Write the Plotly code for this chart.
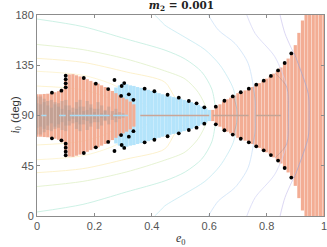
import plotly.graph_objects as go

# column positions and half-widths (deg about i=90)
e_left = [0,.0125,.025,.0375,.05,.0625,.075,.0875,.1,.1125,.125,.1375,.15,.1625,.175,.1875,.2,.2125,.225,.2375,.25,.2625,.275,.2875,.3,.3125,.325,.3375]
h_left = [19,19,19.3,19.5,20,20.8,21.8,24,33,36.8,37,36,35,33.5,32.5,31,29.5,28.5,27,25.5,23.5,22,20,18,16,14.5,12.5,10]
g_left = [17,17,15,13,14,12,11,13,14,9,7,12,14,8,13,10,6,12,9,5,8,4,6,3,2,0,0,0]
g_core = [11,10,12,9,7,10,8,6,9,5,3,6,8,4,5,7,3,6,2,4,1,0,2,0,0,0,0,0]
e_blue = [.2750,.2875,.3,.3125,.325,.3375,.35,.3625,.375,.3875,.4,.4125,.425,.4375,.45,.4625,.475,.4875,.5,.5125,.525,.5375,.55,.5625,.575,.5875,.6]
h_blue = [25,27,29,28,27,26.5,25.5,24.8,24,23,22,21,20,19,18,17.3,16.5,16,15,14,13,12,10.8,9.5,8,6.5,5]
e_right = [.6125,.625,.6375,.65,.6625,.675,.6875,.7,.7125,.725,.7375,.75,.7625,.775,.7875,.8,.8125,.825,.8375,.85,.8625,.875,.8875,.9,.9125,.925,.9375,.95,.9625,.975,.9875,1.0]
h_right = [5,8,10,12.5,14.5,16,18,20,21,22.5,24,25.5,27.5,29,31,33,35,37.5,40,43,47,51,56,63,74,85,90,90,90,90,90,90]

# boundary points
star_e = [.052,.085,.1,.1,.1,.1,.163,.205,.248,.293,.336,.27,.295,.304,.32,.375,.409,.455,.494,.529,.556,.583,.623,.653,.682,.71,.738,.764,.79,.815,.84,.863,.886]
star_i = [110.4,112.2,115.2,118.8,122.4,125.6,123.6,118.5,113.7,107.5,104,121.8,116.4,119,109,114,111.7,108.6,106,103,100.9,97.3,97.9,103.2,107.1,110.8,114,117.6,121.2,125.4,130.4,137,145.6]

# centre-line dashes at i=90
mid_blue_e = [.015,.033,None,.077,.1,None,.114,.253,None,.265,.317]
mid_brown_e = [.36,.6,None]
mid_gray_e = [.6125,.7375,None,.7625,.85]

# level curves: upper half, from outside to i=90
curves_low = [
    ([0,.16,.253,.317], [116.4,113,105,90], "#fdf0c4"),
    ([0,.16,.27,.369,.416], [129.6,126,117,100.5,90], "#fdf2cc"),
    ([0,.16,.311,.445,.481,.516,.52], [141.2,137.6,129,120,106,96,90], "#fbeec0"),
    ([0,.16,.311,.445,.516,.562,.591,.595], [153.6,149,140.6,130,122.7,110.7,96,90], "#e0f0c8"),
    ([0,.16,.311,.446,.516,.574,.609,.622,.623], [176.4,169.6,158.5,148.5,140.6,129,113.7,96,90], "#c0eede"),
]
curves_high = [
    ([.41,.43,.445,.516,.585,.638,.684,.696,.697], [180,175,171,160,149,135,114,96,90], "#b8e6f0"),
    ([.597,.632,.69,.736,.76,.76], [180,166.5,154.5,136.5,103.5,90], "#c3dcf8"),
    ([.731,.76,.829,.87,.876], [180,163.5,142.5,115.5,90], "#cfd0f5"),
    ([.847,.864,.91,.945,.948], [180,163.5,136.5,109.5,90], "#c9c2ee"),
]
# the same curves where they run through the orange region
curves_tint = [
    ([.684,.696,.697], [108,96,90]),
    ([.753,.76,.76], [116,103.5,90]),
    ([.829,.87,.876], [128,115.5,90]),
    ([.896,.91,.945,.948], [146,136.5,109.5,90]),
]

title_text = "<b><i>m</i><sub>2</sub> = 0.001</b>"
x_title = "<i>e</i><sub>0</sub>"
y_title = "<i>i</i><sub>0</sub><span style=\"font-family:Liberation Sans\"> (deg)</span>"
x_ticks = [0,.2,.4,.6,.8,1]
x_labels = ["0","0.2","0.4","0.6","0.8","1"]
y_ticks = [0,45,90,135,180]

def band(xs, hs, color, width):
    px, py = [], []
    for x, h in zip(xs, hs):
        if h > 0:
            px += [x, x, None]
            py += [90-h, 90+h, None]
    return go.Scatter(x=px, y=py, mode="lines", line=dict(color=color, width=width), hoverinfo="skip")

def curve(ce, ci, col, op=1.0, w=0.8):
    xs = ce + ce[-2::-1]
    ys = ci + [180-v for v in ci[-2::-1]]
    return go.Scatter(x=xs, y=ys, mode="lines", opacity=op,
                      line=dict(color=col, width=w, shape="spline", smoothing=0.8))

fig = go.Figure()
for ce, ci, col in curves_low:
    fig.add_trace(curve(ce, ci, col))
fig.add_trace(band(e_blue, h_blue, "#b4e4fb", 3.5))
fig.add_trace(band(e_left, h_left, "#f3ad94", 3.2))
fig.add_trace(band(e_left, g_left, "rgba(165,150,145,0.38)", 3.2))
fig.add_trace(band(e_left, g_core, "rgba(150,150,150,0.28)", 3.2))
fig.add_trace(band(e_right, h_right, "#f3ad94", 3.2))
for ce, ci, col in curves_high:
    fig.add_trace(curve(ce, ci, col, 0.8))
for ce, ci in curves_tint:
    fig.add_trace(curve(ce, ci, "rgba(130,130,150,0.4)", 1, 0.8))

for xs, col in [(mid_blue_e, "#a8dcf5"), (mid_brown_e, "#c9a596"), (mid_gray_e, "#c4a596")]:
    fig.add_trace(go.Scatter(x=xs, y=[None if v is None else 90 for v in xs], mode="lines",
                             line=dict(color=col, width=1.5)))

fig.add_trace(go.Scatter(x=star_e + star_e, y=star_i + [180-v for v in star_i], mode="markers",
                         marker=dict(color="black", size=3.8, symbol="circle")))

axis = dict(showline=True, linecolor="#8c8c8c", linewidth=1, mirror="ticks", ticks="inside", ticklen=3,
            tickcolor="#8c8c8c", showgrid=False, zeroline=False, layer="above traces", automargin=False,
            tickfont=dict(family="Liberation Sans", size=11, color="#555555"))
fig.update_layout(
    width=327, height=247, margin=dict(l=37, r=2.5, t=15, b=31), autosize=False,
    plot_bgcolor="white", paper_bgcolor="white", showlegend=False,
    title=dict(text=title_text, x=0.555, xanchor="center", y=0.995, yanchor="top",
               font=dict(family="DejaVu Serif", size=10.5, color="#222222")),
    xaxis=dict(axis, range=[0,1], tickvals=x_ticks, ticktext=x_labels, ticklabeloverflow="allow"),
    yaxis=dict(axis, range=[0,180], tickvals=y_ticks),
    annotations=[
        dict(text=x_title, xref="paper", yref="paper", x=0.5, y=0, yshift=-13, yanchor="top", showarrow=False,
             font=dict(family="Liberation Serif", size=12, color="#333333")),
        dict(text=y_title, xref="paper", yref="paper", x=0, y=0.5, xshift=-31, textangle=-90, showarrow=False,
             font=dict(family="Liberation Serif", size=11.5, color="#333333")),
    ],
)
fig.write_html("out.html", post_script="document.body.style.margin='0';", config={"displayModeBar": False})
